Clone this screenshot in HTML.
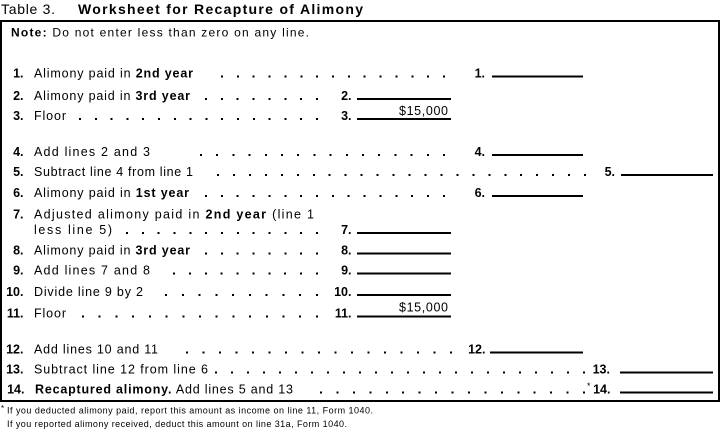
<!DOCTYPE html>
<html>
<head>
<meta charset="utf-8">
<style>
  html, body { margin: 0; padding: 0; background: #fff; }
  svg { display: block; }
  text { fill: #000; }
</style>
</head>
<body>
<svg width="721" height="439" viewBox="0 0 721 439" xmlns="http://www.w3.org/2000/svg" font-family="'Liberation Sans', Arial, sans-serif">
  <rect x="0" y="0" width="721" height="439" fill="#fff"/>

  <!-- Title -->
  <text x="1" y="14" font-size="14" textLength="54" lengthAdjust="spacing">Table 3.</text>
  <text x="78" y="14" font-size="14" font-weight="bold" textLength="285" lengthAdjust="spacing">Worksheet for Recapture of Alimony</text>

  <!-- Box -->
  <rect x="1" y="21" width="718" height="380" fill="none" stroke="#000" stroke-width="2"/>

  <!-- Note -->
  <text x="11" y="36.5" font-size="12" textLength="298" lengthAdjust="spacing"><tspan font-weight="bold">Note:</tspan> Do not enter less than zero on any line.</text>

  <g font-size="12.5">
    <!-- Left numbers -->
    <g font-weight="bold" text-anchor="end">
      <text x="23.5" y="77.5">1.</text>
      <text x="23.5" y="100">2.</text>
      <text x="23.5" y="120">3.</text>
      <text x="23.5" y="156">4.</text>
      <text x="23.5" y="176">5.</text>
      <text x="23.5" y="197">6.</text>
      <text x="23.5" y="218.5">7.</text>
      <text x="23.5" y="254.5">8.</text>
      <text x="23.5" y="274.5">9.</text>
      <text x="23.5" y="296">10.</text>
      <text x="23.5" y="317.5">11.</text>
      <text x="23.5" y="353.5">12.</text>
      <text x="23.5" y="373.5">13.</text>
      <text x="24.5" y="393.5">14.</text>
    </g>

    <!-- Descriptions -->
    <text x="34" y="77.5" textLength="159" lengthAdjust="spacing">Alimony paid in <tspan font-weight="bold">2nd year</tspan></text>
    <text x="34" y="100" textLength="156" lengthAdjust="spacing">Alimony paid in <tspan font-weight="bold">3rd year</tspan></text>
    <text x="34" y="120" textLength="32" lengthAdjust="spacing">Floor</text>
    <text x="34" y="156" textLength="116" lengthAdjust="spacing">Add lines 2 and 3</text>
    <text x="34" y="176" textLength="159" lengthAdjust="spacing">Subtract line 4 from line 1</text>
    <text x="34" y="197" textLength="155" lengthAdjust="spacing">Alimony paid in <tspan font-weight="bold">1st year</tspan></text>
    <text x="34" y="218.5" textLength="280" lengthAdjust="spacing">Adjusted alimony paid in <tspan font-weight="bold">2nd year</tspan> (line 1</text>
    <text x="34" y="234" textLength="78" lengthAdjust="spacing">less line 5)</text>
    <text x="34" y="254.5" textLength="156" lengthAdjust="spacing">Alimony paid in <tspan font-weight="bold">3rd year</tspan></text>
    <text x="34" y="274.5" textLength="116" lengthAdjust="spacing">Add lines 7 and 8</text>
    <text x="34" y="296" textLength="109" lengthAdjust="spacing">Divide line 9 by 2</text>
    <text x="34" y="317.5" textLength="32" lengthAdjust="spacing">Floor</text>
    <text x="34" y="353.5" textLength="124" lengthAdjust="spacing">Add lines 10 and 11</text>
    <text x="34" y="373.5" textLength="174" lengthAdjust="spacing">Subtract line 12 from line 6</text>
    <text x="35" y="393.5" textLength="258" lengthAdjust="spacing"><tspan font-weight="bold">Recaptured alimony.</tspan> Add lines 5 and 13</text>

    <!-- Leader dots -->
    <g stroke="#000" stroke-width="2" shape-rendering="crispEdges">
      <line x1="221" y1="76.5" x2="445.04" y2="76.5" stroke-dasharray="2 13.86"/>
      <line x1="205" y1="99" x2="318" y2="99" stroke-dasharray="2 13.86"/>
      <line x1="79" y1="119" x2="318" y2="119" stroke-dasharray="2 13.8"/>
      <line x1="200" y1="155" x2="445" y2="155" stroke-dasharray="2 14.2"/>
      <line x1="217" y1="175" x2="586" y2="175" stroke-dasharray="2 13.96"/>
      <line x1="205" y1="196" x2="445" y2="196" stroke-dasharray="2 13.86"/>
      <line x1="126" y1="233" x2="318" y2="233" stroke-dasharray="2 13.83"/>
      <line x1="205" y1="253.5" x2="318" y2="253.5" stroke-dasharray="2 13.86"/>
      <line x1="173" y1="273.5" x2="318" y2="273.5" stroke-dasharray="2 13.89"/>
      <line x1="165" y1="295" x2="318" y2="295" stroke-dasharray="2 14.78"/>
      <line x1="82" y1="316.5" x2="318" y2="316.5" stroke-dasharray="2 14.71"/>
      <line x1="186" y1="352.5" x2="452" y2="352.5" stroke-dasharray="2 14.5"/>
      <line x1="215" y1="372.5" x2="585" y2="372.5" stroke-dasharray="2 14"/>
      <line x1="320" y1="392.5" x2="585" y2="392.5" stroke-dasharray="2 14.44"/>
    </g>

    <!-- Right-side labels -->
    <g font-weight="bold" text-anchor="end">
      <text x="485" y="77.5">1.</text>
      <text x="351.5" y="100">2.</text>
      <text x="351.5" y="120">3.</text>
      <text x="485" y="156">4.</text>
      <text x="615" y="176">5.</text>
      <text x="485" y="197">6.</text>
      <text x="351.5" y="234">7.</text>
      <text x="351.5" y="254.5">8.</text>
      <text x="351.5" y="274.5">9.</text>
      <text x="351.5" y="296">10.</text>
      <text x="351.5" y="317.5">11.</text>
      <text x="485.5" y="353.5">12.</text>
      <text x="610" y="373.5">13.</text>
      <text x="610.5" y="393.5">14.</text>
    </g>
    <text x="587" y="389" font-size="9">*</text>

    <!-- Amounts -->
    <text x="399" y="115" textLength="49" lengthAdjust="spacing">$15,000</text>
    <text x="399" y="311.5" textLength="49" lengthAdjust="spacing">$15,000</text>
  </g>

  <!-- Answer underlines -->
  <g fill="#000" shape-rendering="crispEdges">
    <rect x="492" y="75.7" width="91" height="1.8"/>
    <rect x="357" y="98.2" width="94" height="1.8"/>
    <rect x="357" y="118.2" width="94" height="1.8"/>
    <rect x="492" y="154.2" width="91" height="1.8"/>
    <rect x="621" y="174.2" width="92" height="1.8"/>
    <rect x="492" y="195.2" width="91" height="1.8"/>
    <rect x="357" y="232.2" width="94" height="1.8"/>
    <rect x="357" y="252.7" width="94" height="1.8"/>
    <rect x="357" y="272.7" width="94" height="1.8"/>
    <rect x="357" y="294.2" width="94" height="1.8"/>
    <rect x="357" y="315.7" width="94" height="1.8"/>
    <rect x="490" y="351.7" width="93" height="1.8"/>
    <rect x="620" y="371.7" width="93" height="1.8"/>
    <rect x="620" y="391.7" width="93" height="1.8"/>
  </g>

  <!-- Footnote -->
  <text x="1" y="411" font-size="8">*</text>
  <text x="7" y="413.5" font-size="9" textLength="366" lengthAdjust="spacing">If you deducted alimony paid, report this amount as income on line 11, Form 1040.</text>
  <text x="7" y="427" font-size="9" textLength="340" lengthAdjust="spacing">If you reported alimony received, deduct this amount on line 31a, Form 1040.</text>
</svg>
</body>
</html>
